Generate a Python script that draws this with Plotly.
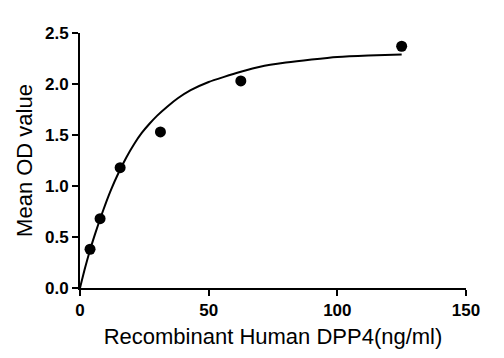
import plotly.graph_objects as go

# Measured points
conc = [3.9, 7.8, 15.6, 31.25, 62.5, 125]
od = [0.38, 0.68, 1.18, 1.53, 2.03, 2.37]

# Fitted curve
curve_x = [0, 2, 4, 6, 8, 10, 12, 15, 18, 21, 24, 27, 30, 34, 38, 43, 50, 56, 62.5, 70, 80, 90, 100, 112, 125]
curve_y = [0, 0.20, 0.38, 0.54, 0.69, 0.83, 0.96, 1.13, 1.28, 1.41, 1.52, 1.61, 1.69, 1.78, 1.86, 1.94, 2.02,
           2.07, 2.12, 2.17, 2.21, 2.24, 2.265, 2.28, 2.29]

x_ticks = [0, 50, 100, 150]
y_ticks = [0.0, 0.5, 1.0, 1.5, 2.0, 2.5]

fig = go.Figure()
fig.add_trace(go.Scatter(x=curve_x, y=curve_y, mode="lines",
                         line=dict(color="black", width=2, shape="spline", smoothing=0.6),
                         showlegend=False, hoverinfo="skip"))
fig.add_trace(go.Scatter(x=conc, y=od, mode="markers",
                         marker=dict(color="black", size=11, symbol="circle"),
                         showlegend=False))

tick_font = dict(family="Liberation Sans, Arial, sans-serif", size=17, color="black", weight="bold")
title_font = dict(family="Liberation Sans, Arial, sans-serif", size=22, color="black")

fig.update_layout(
    width=504, height=358,
    margin=dict(l=72, r=46, t=25, b=78),
    paper_bgcolor="white", plot_bgcolor="white",
    xaxis=dict(range=[0, 150], tickvals=x_ticks, ticktext=[str(v) for v in x_ticks],
               showline=True, linecolor="black", linewidth=2, ticks="outside",
               ticklen=6, tickwidth=2, tickcolor="black", showgrid=False, zeroline=False,
               tickfont=tick_font, automargin=False,
               title=dict(text="Recombinant Human DPP4(ng/ml)", font=title_font, standoff=9)),
    yaxis=dict(range=[0, 2.5], tickvals=y_ticks, ticktext=["%.1f" % v for v in y_ticks],
               showline=True, linecolor="black", linewidth=2, ticks="outside",
               ticklen=6, tickwidth=2, tickcolor="black", showgrid=False, zeroline=False,
               tickfont=tick_font, automargin=False,
               title=dict(text="Mean OD value", font=title_font, standoff=6)),
)

fig.write_html("out.html")
